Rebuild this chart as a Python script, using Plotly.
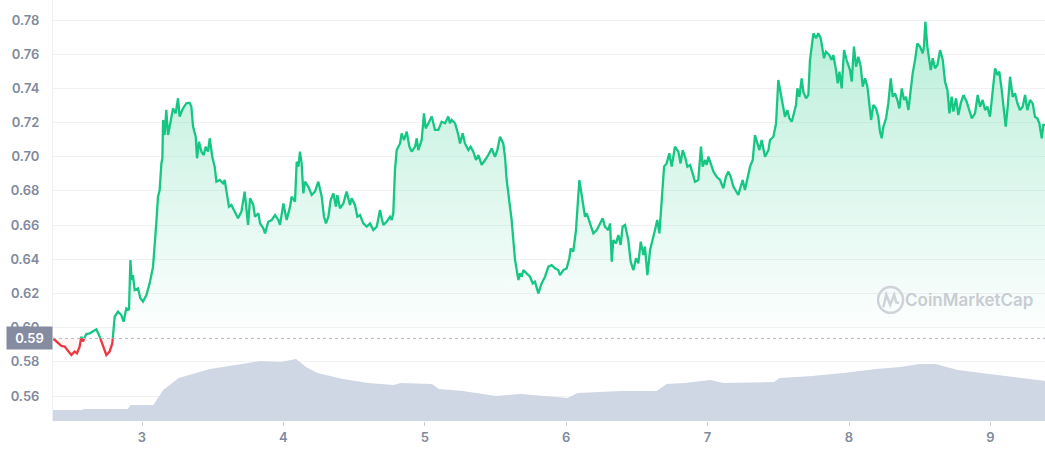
import numpy as np
import plotly.graph_objects as go

# ---------------- data ----------------
times = [
    2.371, 2.382, 2.406, 2.430, 2.453, 2.477, 2.500, 2.524, 2.540, 2.559,
    2.571, 2.583, 2.595, 2.606, 2.630, 2.654, 2.677, 2.701, 2.724, 2.748,
    2.771, 2.790, 2.807, 2.830, 2.854, 2.870, 2.889, 2.908, 2.918, 2.927,
    2.936, 2.948, 2.972, 2.988, 3.007, 3.031, 3.054, 3.078, 3.090, 3.101,
    3.113, 3.125, 3.137, 3.144, 3.149, 3.160, 3.172, 3.184, 3.200, 3.219,
    3.238, 3.255, 3.266, 3.290, 3.314, 3.337, 3.349, 3.361, 3.380, 3.389,
    3.403, 3.420, 3.436, 3.450, 3.467, 3.479, 3.497, 3.514, 3.526, 3.549,
    3.573, 3.585, 3.596, 3.615, 3.632, 3.655, 3.679, 3.703, 3.726, 3.750,
    3.764, 3.787, 3.799, 3.823, 3.835, 3.858, 3.870, 3.893, 3.917, 3.941,
    3.964, 3.976, 4.000, 4.023, 4.047, 4.058, 4.082, 4.094, 4.106, 4.117,
    4.129, 4.141, 4.153, 4.176, 4.200, 4.223, 4.247, 4.271, 4.287, 4.301,
    4.318, 4.334, 4.353, 4.372, 4.381, 4.400, 4.424, 4.447, 4.471, 4.483,
    4.506, 4.523, 4.542, 4.565, 4.589, 4.613, 4.636, 4.660, 4.683, 4.695,
    4.707, 4.730, 4.754, 4.766, 4.777, 4.789, 4.801, 4.825, 4.836, 4.853,
    4.872, 4.891, 4.907, 4.931, 4.943, 4.954, 4.978, 4.994, 5.006, 5.025,
    5.049, 5.072, 5.096, 5.119, 5.143, 5.166,
    5.178, 5.190, 5.214, 5.237, 5.249, 5.268, 5.284, 5.308, 5.324, 5.343,
    5.362, 5.379, 5.402, 5.426, 5.449, 5.473, 5.496, 5.513, 5.532, 5.555,
    5.567, 5.579, 5.598, 5.614, 5.626, 5.638, 5.650, 5.662, 5.673, 5.685,
    5.697, 5.720, 5.744, 5.763, 5.779, 5.803, 5.826, 5.850, 5.874, 5.897,
    5.921, 5.944, 5.956, 5.980, 6.003, 6.022, 6.032, 6.050, 6.069, 6.093,
    6.109, 6.133, 6.145, 6.168, 6.192, 6.216, 6.239, 6.258, 6.274, 6.298,
    6.310, 6.322, 6.333, 6.352, 6.369, 6.385, 6.399, 6.416, 6.439, 6.456,
    6.475, 6.494, 6.510, 6.527, 6.546, 6.557, 6.574, 6.593,
    6.628, 6.644, 6.659, 6.675, 6.692, 6.710, 6.729, 6.746, 6.769, 6.793,
    6.809, 6.824, 6.840, 6.857, 6.876, 6.894, 6.911, 6.934, 6.953, 6.965,
    6.982, 6.993, 7.005, 7.022, 7.041, 7.064, 7.088, 7.111, 7.130, 7.147,
    7.163, 7.182, 7.201, 7.217, 7.234, 7.248, 7.264, 7.281, 7.300, 7.319,
    7.335, 7.352, 7.366, 7.382, 7.406, 7.430, 7.441, 7.465, 7.484, 7.500,
    7.524, 7.547, 7.564, 7.578, 7.595, 7.611, 7.625, 7.635, 7.649, 7.665,
    7.677, 7.696, 7.712, 7.724, 7.736, 7.748, 7.767, 7.783, 7.800, 7.814,
    7.823, 7.837, 7.861, 7.877, 7.889, 7.908, 7.920, 7.932, 7.948, 7.965,
    7.983,
    8.007, 8.019, 8.035, 8.050, 8.066, 8.083, 8.097, 8.113, 8.130, 8.144,
    8.156, 8.172, 8.191, 8.207, 8.219, 8.231, 8.243, 8.262, 8.278, 8.295,
    8.309, 8.325, 8.342, 8.356, 8.373, 8.389, 8.403, 8.420, 8.431, 8.450,
    8.467, 8.483, 8.502, 8.521, 8.530, 8.540, 8.554, 8.568, 8.578, 8.592,
    8.608, 8.625, 8.644, 8.663, 8.679, 8.696, 8.710, 8.726, 8.738, 8.757,
    8.773, 8.790, 8.809, 8.832, 8.851, 8.868, 8.891, 8.910, 8.927, 8.945,
    8.962, 8.978, 8.997, 9.016, 9.033, 9.049, 9.063, 9.080, 9.096, 9.108,
    9.120, 9.139, 9.157, 9.174, 9.191, 9.209, 9.228, 9.245, 9.261, 9.280,
    9.299, 9.315, 9.332, 9.346, 9.363, 9.374, 9.386,
]

prices = [
    0.5937, 0.5928, 0.5908, 0.5893, 0.5889, 0.5865, 0.5840, 0.5860, 0.5850, 0.5889,
    0.5947, 0.5918, 0.5947, 0.5963, 0.5967, 0.5977, 0.5990, 0.5947, 0.5889, 0.5840,
    0.5860, 0.5908, 0.6064, 0.6094, 0.6074, 0.6035, 0.6113, 0.6103, 0.6396, 0.6279,
    0.6308, 0.6220, 0.6230, 0.6172, 0.6152, 0.6191, 0.6259, 0.6357, 0.6474, 0.6610,
    0.6766, 0.6805, 0.6961, 0.6991, 0.7215, 0.7127, 0.7274, 0.7127, 0.7196, 0.7283,
    0.7254, 0.7342, 0.7235, 0.7283, 0.7313, 0.7316, 0.7293, 0.7176, 0.7117, 0.6991,
    0.7088, 0.7030, 0.7010, 0.7059, 0.7030, 0.7108, 0.7000, 0.6942, 0.6854, 0.6864,
    0.6844, 0.6864, 0.6805, 0.6708, 0.6718, 0.6679, 0.6640, 0.6679, 0.6796, 0.6601,
    0.6757, 0.6718, 0.6649, 0.6669, 0.6610, 0.6581, 0.6552, 0.6620, 0.6630, 0.6659,
    0.6630, 0.6601, 0.6727, 0.6630, 0.6708, 0.6766, 0.6737, 0.6971, 0.6942, 0.7030,
    0.6961, 0.6786, 0.6854, 0.6825, 0.6776, 0.6796, 0.6854, 0.6766, 0.6649, 0.6610,
    0.6649, 0.6747, 0.6786, 0.6708, 0.6776, 0.6698, 0.6727, 0.6796, 0.6718, 0.6757,
    0.6718, 0.6649, 0.6659, 0.6610, 0.6591, 0.6610, 0.6571, 0.6591, 0.6688, 0.6640,
    0.6601, 0.6620, 0.6649, 0.6630, 0.6669, 0.6922, 0.7039, 0.7078, 0.7137, 0.7098,
    0.7147, 0.7059, 0.7030, 0.7059, 0.7108, 0.7039, 0.7098, 0.7254, 0.7166, 0.7196,
    0.7235, 0.7157, 0.7157, 0.7205, 0.7196, 0.7235,
    0.7196, 0.7215, 0.7196, 0.7127, 0.7078, 0.7137, 0.7078, 0.7039, 0.7059, 0.7030,
    0.6981, 0.7010, 0.6952, 0.6981, 0.7010, 0.7049, 0.7000, 0.7039, 0.7117, 0.7078,
    0.7000, 0.6864, 0.6747, 0.6630, 0.6513, 0.6396, 0.6337, 0.6279, 0.6318, 0.6298,
    0.6337, 0.6318, 0.6298, 0.6259, 0.6269, 0.6201, 0.6259, 0.6298, 0.6357, 0.6366,
    0.6347, 0.6337, 0.6308, 0.6337, 0.6347, 0.6406, 0.6464, 0.6445, 0.6571, 0.6864,
    0.6766, 0.6649, 0.6669, 0.6610, 0.6552, 0.6571, 0.6610, 0.6640, 0.6591, 0.6571,
    0.6610, 0.6386, 0.6513, 0.6493, 0.6542, 0.6484, 0.6591, 0.6601, 0.6513, 0.6386,
    0.6337, 0.6406, 0.6376, 0.6503, 0.6425, 0.6474, 0.6308, 0.6454,
    0.6571, 0.6630, 0.6552, 0.6747, 0.6942, 0.6961, 0.7020, 0.6942, 0.7059, 0.7030,
    0.6961, 0.7039, 0.7000, 0.6942, 0.6952, 0.6903, 0.6854, 0.6864, 0.7059, 0.6942,
    0.6981, 0.6952, 0.7000, 0.6961, 0.6913, 0.6883, 0.6864, 0.6815, 0.6883, 0.6913,
    0.6883, 0.6825, 0.6796, 0.6776, 0.6825, 0.6864, 0.6805, 0.6864, 0.6942, 0.6981,
    0.7127, 0.7078, 0.7039, 0.7098, 0.7000, 0.7039, 0.7098, 0.7117, 0.7195, 0.7449,
    0.7332, 0.7234, 0.7273, 0.7225, 0.7205, 0.7254, 0.7303, 0.7400, 0.7351, 0.7459,
    0.7381, 0.7342, 0.7361, 0.7566, 0.7663, 0.7722, 0.7693, 0.7722, 0.7693, 0.7624,
    0.7576, 0.7615, 0.7595, 0.7566, 0.7595, 0.7507, 0.7429, 0.7498, 0.7400, 0.7624,
    0.7566,
    0.7507, 0.7439, 0.7644, 0.7527, 0.7585, 0.7527, 0.7410, 0.7459, 0.7410, 0.7312,
    0.7215, 0.7303, 0.7283, 0.7234, 0.7147, 0.7108, 0.7176, 0.7225, 0.7312, 0.7459,
    0.7351, 0.7371, 0.7332, 0.7283, 0.7400, 0.7332, 0.7351, 0.7273, 0.7351, 0.7488,
    0.7566, 0.7663, 0.7644, 0.7605, 0.7644, 0.7790, 0.7644, 0.7566, 0.7507, 0.7576,
    0.7517, 0.7537, 0.7624, 0.7566, 0.7439, 0.7390, 0.7254, 0.7351, 0.7264, 0.7342,
    0.7244, 0.7312, 0.7361, 0.7322, 0.7273, 0.7225, 0.7254, 0.7361, 0.7293, 0.7332,
    0.7273, 0.7293, 0.7234, 0.7371, 0.7517, 0.7478, 0.7498, 0.7390, 0.7273, 0.7176,
    0.7273, 0.7468, 0.7351, 0.7371, 0.7312, 0.7273, 0.7293, 0.7361, 0.7273, 0.7332,
    0.7312, 0.7234, 0.7225, 0.7195, 0.7108, 0.7186, 0.7186,
]

vol_times = [2.36, 2.57, 2.59, 2.90, 2.92, 3.08, 3.15, 3.26, 3.48, 3.71,
             3.84, 3.98, 4.09, 4.16, 4.24, 4.42, 4.60, 4.78, 4.83, 5.05,
             5.10, 5.27, 5.50, 5.68, 5.86, 6.01, 6.08, 6.30, 6.39, 6.64,
             6.71, 6.84, 7.02, 7.11, 7.47, 7.51, 7.74, 7.96, 8.19, 8.36,
             8.50, 8.61, 8.77, 8.99, 9.22, 9.39]
vol_values = [11, 11, 12, 12, 16, 16, 31, 43, 52, 57,
              60, 59, 62, 54, 48, 42, 38, 36, 38, 37,
              32, 30, 25, 27, 25, 23, 28, 29, 30, 30,
              37, 38, 41, 38, 39, 43, 45, 48, 52, 54,
              57, 57, 51, 47, 43, 40]

x_ticks = [3, 4, 5, 6, 7, 8, 9]
y_ticks = [0.56, 0.58, 0.60, 0.62, 0.64, 0.66, 0.68, 0.70, 0.72, 0.74, 0.76, 0.78]
baseline_price = 0.5937
baseline_label = "0.59"
watermark = "CoinMarketCap"

GREEN = "#16c784"
RED = "#ea3943"
GRAY = "#808a9d"

# ------------- split the line where it crosses the open price -------------
segs = []
cur_above = prices[0] >= baseline_price
cx, cy = [times[0]], [prices[0]]
for i in range(1, len(times)):
    t0, p0, t1, p1 = times[i - 1], prices[i - 1], times[i], prices[i]
    a1 = p1 >= baseline_price
    if a1 != cur_above:
        tc = t0 + (baseline_price - p0) * (t1 - t0) / (p1 - p0)
        cx.append(tc); cy.append(baseline_price)
        segs.append((cur_above, cx, cy))
        cx, cy = [tc], [baseline_price]
        cur_above = a1
    cx.append(t1); cy.append(p1)
segs.append((cur_above, cx, cy))

gx, gy, rx, ry = [], [], [], []
full_x, full_y = [], []
for above, sx, sy in segs:
    if above:
        gx += sx + [None]; gy += sy + [None]
    else:
        rx += sx + [None]; ry += sy + [None]
    if full_x:
        full_x += sx[1:]; full_y += sy[1:]
    else:
        full_x += sx; full_y += sy
full_y = np.array(full_y)

fig = go.Figure()

# volume
fig.add_trace(go.Scatter(x=vol_times, y=vol_values, yaxis="y2", mode="lines",
                         line=dict(width=0, color="#cfd6e4"), fill="tozeroy",
                         fillcolor="#cfd6e4", hoverinfo="skip", showlegend=False))

# green fill above the open price
fig.add_trace(go.Scatter(x=full_x, y=[baseline_price] * len(full_x), mode="lines",
                         line=dict(width=0), hoverinfo="skip", showlegend=False))
fig.add_trace(go.Scatter(x=full_x, y=np.maximum(full_y, baseline_price), mode="lines",
                         line=dict(width=0), fill="tonexty",
                         fillgradient=dict(type="vertical",
                                           colorscale=[[0, "rgba(22,199,132,0.0)"],
                                                       [1, "rgba(22,199,132,0.30)"]],
                                           start=baseline_price, stop=0.78),
                         hoverinfo="skip", showlegend=False))
# faint red fill below the open price
fig.add_trace(go.Scatter(x=full_x, y=[baseline_price] * len(full_x), mode="lines",
                         line=dict(width=0), hoverinfo="skip", showlegend=False))
fig.add_trace(go.Scatter(x=full_x, y=np.minimum(full_y, baseline_price), mode="lines",
                         line=dict(width=0), fill="tonexty",
                         fillcolor="rgba(234,57,67,0.05)",
                         hoverinfo="skip", showlegend=False))

fig.add_trace(go.Scatter(x=gx, y=gy, mode="lines", line=dict(color=GREEN, width=2.3),
                         connectgaps=False, showlegend=False))
fig.add_trace(go.Scatter(x=rx, y=ry, mode="lines", line=dict(color=RED, width=2.3),
                         connectgaps=False, showlegend=False))

fig.add_shape(type="line", xref="paper", yref="y", x0=0, x1=1,
              y0=baseline_price, y1=baseline_price,
              line=dict(color="#b4b9c4", width=1, dash="dot"))

# watermark logo
fig.add_shape(type="circle", xref="paper", yref="paper",
              x0=0.8317, x1=0.8569, y0=0.257, y1=0.318,
              line=dict(color="#cfd2d8", width=2.5))
fig.add_shape(type="path", xref="paper", yref="paper",
              path="M 0.8370 0.270 L 0.8400 0.300 L 0.8440 0.276 L 0.8480 0.300 L 0.8500 0.282 L 0.8530 0.280",
              line=dict(color="#cfd2d8", width=2.5))
fig.add_annotation(xref="paper", yref="paper", x=0.99, y=0.2874, xanchor="right",
                   yanchor="middle", text=watermark, showarrow=False,
                   font=dict(family="Inter", size=17, color="#c9ccd3", weight=600))

fig.add_annotation(xref="paper", yref="y", x=0, y=baseline_price, xanchor="right",
                   yanchor="middle", text=baseline_label, showarrow=False,
                   bgcolor="#858ca2", width=37, height=14, borderpad=4,
                   font=dict(family="Inter", size=13, color="white", weight=600))

fig.update_layout(
    width=1045, height=450,
    margin=dict(l=53, r=0, t=0, b=29),
    paper_bgcolor="white", plot_bgcolor="white",
    showlegend=False,
    hovermode=False,
    xaxis=dict(range=[2.3706, 9.386], tickvals=x_ticks, showgrid=False,
               zeroline=False, ticks="outside", ticklen=4, tickcolor="#c8ccd4",
               showline=False,
               tickfont=dict(family="Inter", size=13, color=GRAY, weight=600)),
    yaxis=dict(range=[0.5454, 0.7917], tickvals=y_ticks, tickformat=".2f",
               showgrid=True, gridcolor="#f1f2f4", zeroline=False,
               showline=True, linecolor="#eef0f3", ticks="", ticklabelstandoff=10,
               tickfont=dict(family="Inter", size=13, color=GRAY, weight=600)),
    yaxis2=dict(range=[0, 421], overlaying="y", visible=False, fixedrange=True),
)

fig.write_html("out.html", config={"displayModeBar": False},
               post_script="document.body.style.margin='0px';document.body.style.overflow='hidden';")
